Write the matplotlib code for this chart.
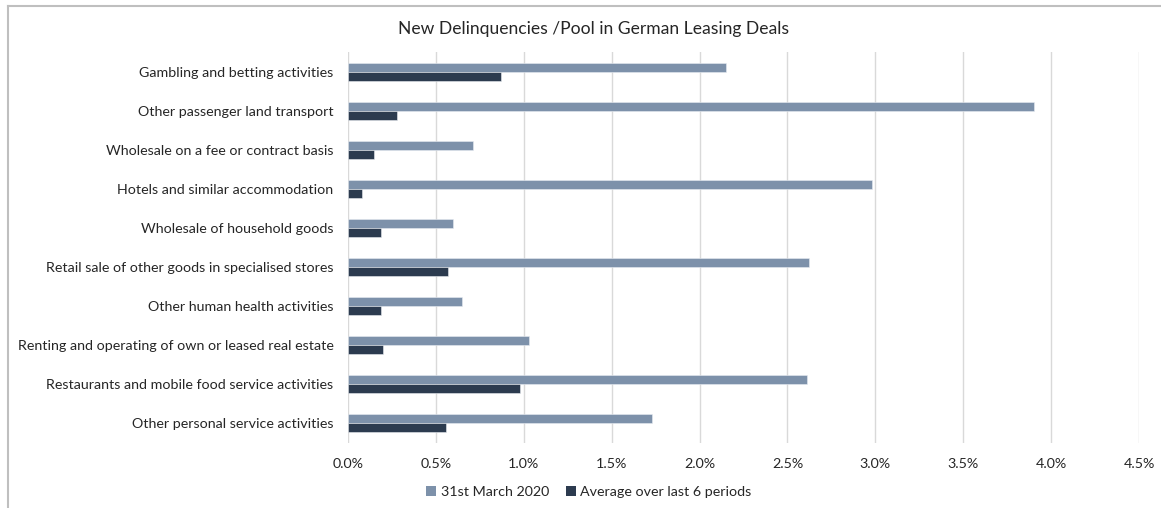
import numpy as np
import matplotlib
matplotlib.use("Agg")
import matplotlib.pyplot as plt
from matplotlib.patches import Patch
from matplotlib.ticker import FuncFormatter, MultipleLocator
from matplotlib.lines import Line2D

categories = [
    "Gambling and betting activities",
    "Other passenger land transport",
    "Wholesale on a fee or contract basis",
    "Hotels and similar accommodation",
    "Wholesale of household goods",
    "Retail sale of other goods in specialised stores",
    "Other human health activities",
    "Renting and operating of own or leased real estate",
    "Restaurants and mobile food service activities",
    "Other personal service activities",
]
march_2020 = [0.0215, 0.0390, 0.0071, 0.0298, 0.0060, 0.0262, 0.0065, 0.0103, 0.0261, 0.0173]
avg_6_periods = [0.0087, 0.0028, 0.0015, 0.0008, 0.0019, 0.0057, 0.0019, 0.0020, 0.0098, 0.0056]
series_names = ["31st March 2020", "Average over last 6 periods"]

light = "#7D91AA"
dark = "#2C3B4F"
grid_c = "#D9D9D9"
text_c = "#262626"

plt.rcParams['font.family'] = ['Lato', 'DejaVu Sans']

fig = plt.figure(figsize=(11.61, 5.08), dpi=100)
ax = fig.add_axes([348 / 1161, 1 - 443 / 508, (1139 - 348) / 1161, (443 - 52) / 508])

y = np.arange(len(categories))
h = 0.23
ax.barh(y - h / 2, march_2020, height=h, color=light, edgecolor="#E8ECF1", linewidth=0.4, zorder=3)
ax.barh(y + h / 2, avg_6_periods, height=h, color=dark, edgecolor="#E8ECF1", linewidth=0.4, zorder=3)

ax.set_ylim(len(categories) - 0.5, -0.5)
ax.set_xlim(0, 0.045)
ax.xaxis.set_major_locator(MultipleLocator(0.005))
ax.xaxis.set_major_formatter(FuncFormatter(lambda v, p: f"{v * 100:.1f}%"))
ax.set_yticks(y)
ax.set_yticklabels(categories)
ax.grid(axis="x", color=grid_c, linewidth=1.0, zorder=0)
for s in ax.spines.values():
    s.set_visible(False)
ax.tick_params(axis="both", length=0, colors=text_c, labelsize=10.3)
ax.tick_params(axis="y", pad=10.5)
ax.tick_params(axis="x", pad=11)

fig.text(594 / 1161, 1 - 29 / 508, "New Delinquencies /Pool in German Leasing Deals",
         ha="center", va="center", fontsize=12.6, color=text_c)

handles = [Patch(facecolor=light), Patch(facecolor=dark)]
fig.legend(handles, series_names, loc="center", bbox_to_anchor=(589 / 1161, 1 - 492 / 508),
           ncol=2, frameon=False, fontsize=10.3, handlelength=0.7, handleheight=0.7,
           handletextpad=0.3, columnspacing=1.2, labelcolor=text_c)

# chart area border (left and top edges visible in the crop)
fig.add_artist(Line2D([8 / 1161, 8 / 1161], [0, 1 - 6 / 508], transform=fig.transFigure,
                      color="#BFBFBF", linewidth=1.5))
fig.add_artist(Line2D([8 / 1161, 1], [1 - 6 / 508, 1 - 6 / 508], transform=fig.transFigure,
                      color="#BFBFBF", linewidth=1.5))

fig.savefig("out.png", dpi=100)
